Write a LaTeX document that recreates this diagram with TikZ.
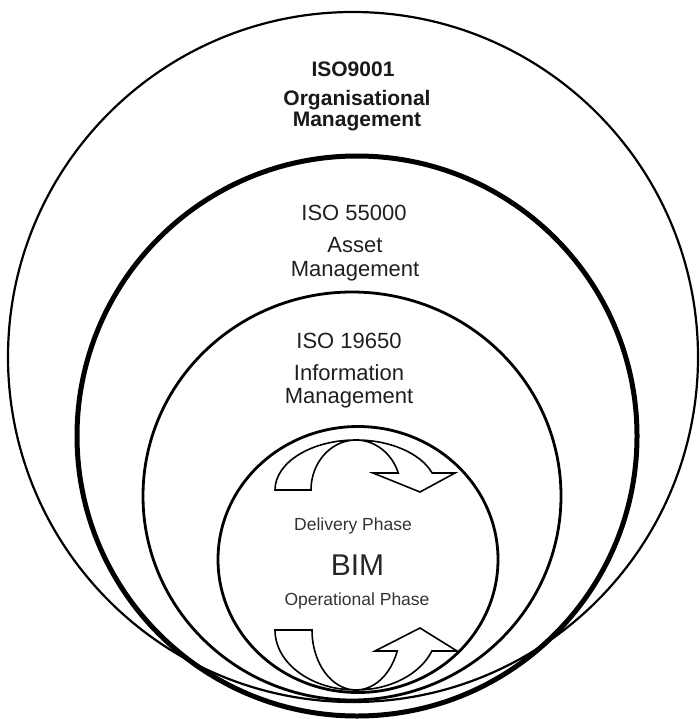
\documentclass[tikz,border=0pt]{standalone}
\usepackage{fontspec}
\setmainfont{Liberation Sans}
\begin{document}
\begin{tikzpicture}[x=1pt,y=-1pt,
  ring/.style={draw=black, line width=#1},
  blockarrow/.style={draw=black, line width=1.6pt, line join=miter, fill=white},
  lbl/.style={anchor=base, inner sep=0pt, text=black!88, font=\fontsize{22}{24}\selectfont},
  toplbl/.style={anchor=base, inner sep=0pt, text=black!90, font=\fontsize{21}{23}\selectfont\bfseries},
  phase/.style={anchor=base, inner sep=0pt, text=black!80, font=\fontsize{17.5}{20}\selectfont},
  core/.style={anchor=base, inner sep=0pt, text=black!85, font=\fontsize{30}{32}\selectfont}]
\useasboundingbox (0,0) rectangle (700,719);

% nested scopes of management
\draw[ring=2.2pt] (353,357) circle [radius=345];
\draw[ring=5pt] (357,436) circle [radius=280];
\draw[ring=2.8pt] (352,496) ellipse [x radius=209, y radius=204];
\draw[ring=2.8pt] (358,559.5) ellipse [x radius=140, y radius=133];

% curved block arrow, delivery cycle (top)
\draw[blockarrow] (275,490)
  arc [start angle=180, end angle=340.1, x radius=81, y radius=50]
  -- (455,473) -- (420,492) -- (373,473) -- (398.3,473)
  arc [start angle=340.1, end angle=180, x radius=45, y radius=50]
  -- cycle;

% curved block arrow, operational cycle (bottom)
\draw[blockarrow] (275,630)
  arc [start angle=180, end angle=20.5, x radius=81, y radius=60]
  -- (457,651) -- (420,628) -- (375,651) -- (397.2,651)
  arc [start angle=20.5, end angle=180, x radius=44, y radius=60]
  -- cycle;

% labels
\node[toplbl] (iso9001) at (353,77) {ISO9001};
\node[toplbl] (org1) at (357,106) {Organisational};
\node[toplbl] (org2) at (357,127) {Management};

\node[lbl] (iso55000) at (354,220) {ISO 55000};
\node[lbl] (asset1) at (355,252) {Asset};
\node[lbl] (asset2) at (355,276) {Management};

\node[lbl] (iso19650) at (349,348) {ISO 19650};
\node[lbl] (info1) at (349,380) {Information};
\node[lbl] (info2) at (349,403) {Management};

\node[phase] (delivery) at (353,530) {Delivery Phase};
\node[core] (bim) at (357.5,575) {BIM};
\node[phase] (operational) at (357,605) {Operational Phase};
\end{tikzpicture}
\end{document}
